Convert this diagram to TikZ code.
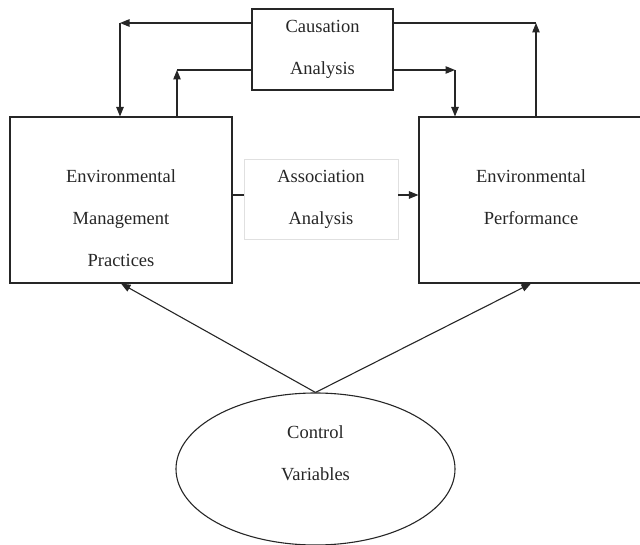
\documentclass[tikz,border=0pt]{standalone}
\usepackage{fontspec}
\setmainfont{Liberation Serif}
\usetikzlibrary{arrows.meta,shapes.geometric,positioning}
\tikzset{
  box/.style={draw=black!85, line width=1.1pt, inner sep=0pt},
  softbox/.style={draw=black!12, line width=0.8pt, inner sep=0pt},
  words/.style={align=center, font=\fontsize{18.5pt}{42pt}\selectfont, text=black!85, inner sep=0pt},
  link/.style={line width=1.1pt, draw=black!85},
  arr/.style={link, -{Triangle[length=9.5pt,width=7.5pt]}}
}

\begin{document}
\begin{tikzpicture}[x=1pt, y=-1pt]
	%%%%% START %%%%%
	\useasboundingbox (0,0) rectangle (640,545);
	
	\node[box, words, minimum width=141pt, minimum height=81pt] (caus) at (322.5,49.5) {Causation\\Analysis};
	\node[softbox, words, minimum width=154pt, minimum height=80pt] (assoc) at (321,199) {Association\\Analysis};
	
	\node[box, minimum width=222pt, minimum height=166pt] (emp) at (121,200) {};
	\node[words, anchor=north] (emptext) at (121,169) {Environmental\\Management\\Practices};
	
	\node[box, minimum width=224pt, minimum height=166pt] (ep) at (531,200) {};
	\node[words, anchor=north] (eptext) at (531,169) {Environmental\\Performance};
	
	\node[box, ellipse, minimum width=279pt, minimum height=152pt] (ctrl) at (315.5,469) {};
	\node[words, anchor=north] (ctrltext) at (315.5,425) {Control\\Variables};
	
	% causation loops
	\coordinate (cl1) at (120,23);
	\coordinate (cl2) at (177,70);
	\coordinate (cr1) at (536,23);
	\coordinate (cr2) at (455,70);
	
	\draw[arr] (caus.west |- cl1) -- (cl1);
	\draw[arr] (cl1) -- (cl1 |- emp.north);
	\draw[link] (caus.west |- cl2) -- (cl2);
	\draw[arr] (cl2 |- emp.north) -- (cl2);
	
	\draw[link] (caus.east |- cr1) -- (cr1);
	\draw[arr] (cr1 |- ep.north) -- (cr1);
	\draw[arr] (caus.east |- cr2) -- (cr2);
	\draw[arr] (cr2) -- (cr2 |- ep.north);
	
	% association
	\coordinate (mid) at (0,195);
	\draw[link] (emp.east |- mid) -- (assoc.west |- mid);
	\draw[arr] (assoc.east |- mid) -- (ep.west |- mid);
	
	% control variables
	\draw[arr] (ctrl.north) -- (emp.south);
	\draw[arr] (ctrl.north) -- (ep.south);
	
	%%%%% END %%%%%
\end{tikzpicture}
\end{document}
